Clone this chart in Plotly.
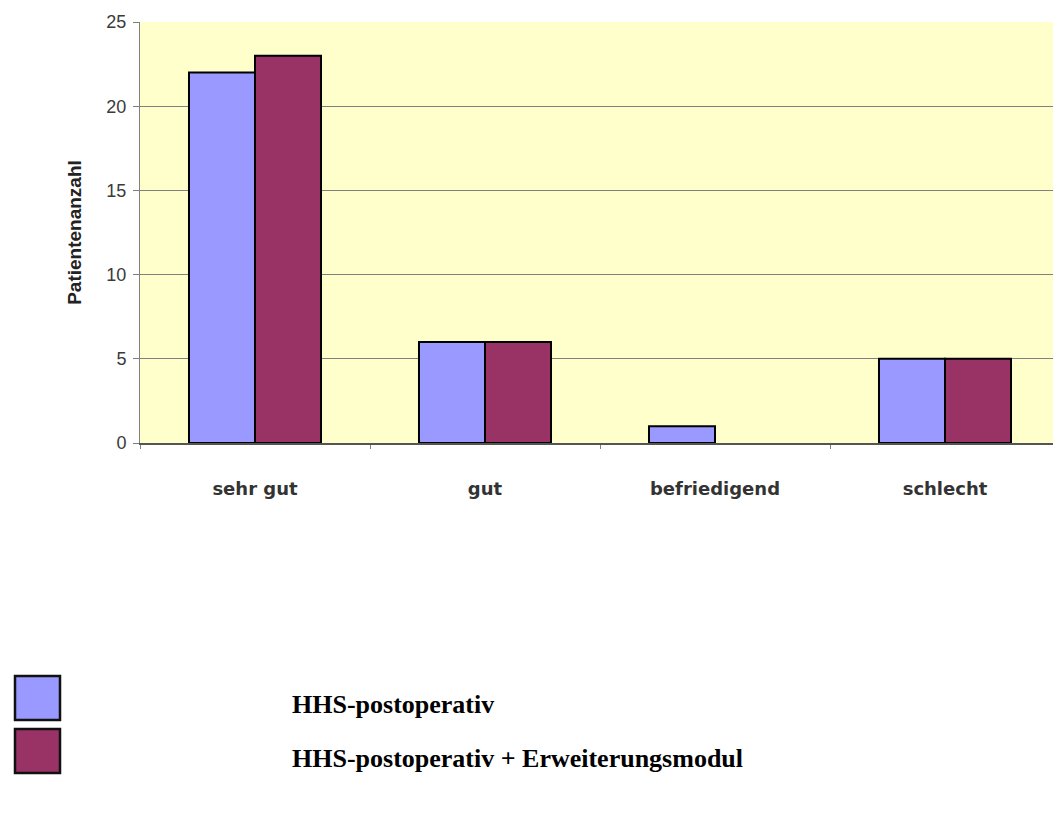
import plotly.graph_objects as go

categories = ["sehr gut", "gut", "befriedigend", "schlecht"]
series_names = ["HHS-postoperativ", "HHS-postoperativ + Erweiterungsmodul"]
hhs_post = [22, 6, 1, 5]
hhs_post_erw = [23, 6, 0, 5]
colors = ["#9999FF", "#993366"]
y_ticks = [0, 5, 10, 15, 20, 25]

fig = go.Figure()
for name, vals, col in zip(series_names, [hhs_post, hhs_post_erw], colors):
    fig.add_trace(go.Bar(
        x=categories, y=vals, name=name,
        marker=dict(color=col,
                    line=dict(color="#000000", width=[0 if v == 0 else 2 for v in vals])),
        showlegend=False,
    ))

W, H = 1061, 814
OFF = 8  # page body offset
ml, mr, mt, mb = 140 - OFF, 9, 22 - OFF, 814 - (443 - OFF)
pw = W - ml - mr
ph = H - mt - mb

fig.update_layout(
    width=W, height=H,
    margin=dict(l=ml, r=mr, t=mt, b=mb, autoexpand=False),
    paper_bgcolor="white",
    plot_bgcolor="#FFFFCC",
    barmode="group",
    bargap=0.426,
    bargroupgap=0,
    font=dict(family="Liberation Sans, Arial, sans-serif", size=18, color="#333333"),
)
fig.update_yaxes(
    range=[0, 25], tickvals=y_ticks, automargin=False,
    showgrid=True, gridcolor="#808080", gridwidth=1,
    showline=True, linecolor="#808080", linewidth=1,
    ticks="outside", ticklen=6, tickcolor="#808080",
    ticklabelstandoff=3,
    tickfont=dict(size=18, color="#3a3a3a"),
    title=dict(text="<b>Patientenanzahl</b>",
               font=dict(family="Liberation Sans, Arial, sans-serif", size=19, color="#222222"),
               standoff=19),
    zeroline=False,
)
fig.update_xaxes(
    automargin=False,
    showline=True, linecolor="#555555", linewidth=1.5,
    ticks="outside", ticklen=4, tickcolor="#808080", tickson="boundaries",
    tickfont=dict(family="DejaVu Sans, sans-serif", size=18, color="#333333"),
    ticklabelstandoff=29,
    tickvals=categories,
    ticktext=["<b>" + c + "</b>" for c in categories],
)
# right border of plot area
fig.add_shape(type="line", xref="paper", yref="paper", x0=1, x1=1, y0=0, y1=1,
              line=dict(color="#808080", width=1))

# legend (squares + labels) below the chart
sq_rows = [(676, 720), (729, 773)]
text_y = [705, 759]
for (t, b), col, name, ty in zip(sq_rows, colors, series_names, text_y):
    x0 = (15 - OFF - ml) / pw
    x1 = (60 - OFF - ml) / pw
    y0 = (H - mb - (b - OFF)) / ph
    y1 = (H - mb - (t - OFF)) / ph
    fig.add_shape(type="rect", xref="paper", yref="paper", x0=x0, x1=x1, y0=y0, y1=y1,
                  fillcolor=col, line=dict(color="#111111", width=2.5))
    fig.add_annotation(xref="paper", yref="paper",
                       x=(290 - OFF - ml) / pw, y=(H - mb - (ty - OFF)) / ph,
                       xanchor="left", yanchor="middle", showarrow=False,
                       text="<b>" + name + "</b>",
                       font=dict(family="Liberation Serif, Times New Roman, serif", size=26, color="#000000"))

fig.write_html("out.html")
